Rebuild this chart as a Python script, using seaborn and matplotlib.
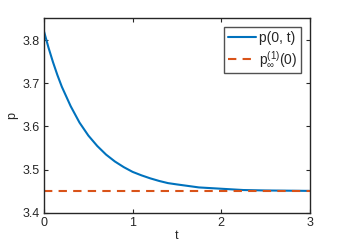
import numpy as np
import pandas as pd
import seaborn as sns
import matplotlib
matplotlib.use("Agg")
import matplotlib.pyplot as plt

# values
t = [0.0, 0.05, 0.1, 0.15, 0.2, 0.3, 0.4, 0.5, 0.6, 0.7, 0.8, 0.9, 1.0,
     1.1, 1.2, 1.3, 1.4, 1.5, 1.75, 2.0, 2.25, 2.5, 2.75, 3.0]
p = [3.819, 3.782, 3.749, 3.719, 3.692, 3.647, 3.609, 3.579, 3.555, 3.535,
     3.519, 3.506, 3.495, 3.487, 3.480, 3.474, 3.469, 3.466, 3.459, 3.456,
     3.453, 3.452, 3.4515, 3.451]
p_inf = 3.45
t_range = [0.0, 3.0]

sns.set_style("ticks")
plt.rcParams["font.family"] = ["Liberation Sans", "DejaVu Sans"]
plt.rcParams["mathtext.fontset"] = "custom"
plt.rcParams["mathtext.rm"] = "Liberation Sans"
plt.rcParams["mathtext.it"] = "Liberation Sans"

df = pd.DataFrame({"t": t, "p": p})
ref = pd.DataFrame({"t": t_range, "p": [p_inf] * len(t_range)})

fig = plt.figure(figsize=(3.42, 2.52), dpi=100)
ax = fig.add_axes([0.129, 0.155, 0.776, 0.772])

sns.lineplot(data=df, x="t", y="p", ax=ax, color="#0072BD", linewidth=1.5,
             label="p(0, t)")
sns.lineplot(data=ref, x="t", y="p", ax=ax, color="#D95319", linewidth=1.5,
             linestyle=(0, (4, 3)), label=r"p$_{\infty}^{(1)}$(0)")

ax.set_xlim(0, 3)
ax.set_ylim(3.4, 3.85)
ax.set_xticks([0, 1, 2, 3])
ax.set_yticks([3.4, 3.5, 3.6, 3.7, 3.8])
ax.set_xlabel("t", fontsize=9, color="#262626", labelpad=1)
ax.set_ylabel("p", fontsize=9, color="#262626", labelpad=3)
ax.tick_params(direction="in", top=True, right=True, length=3, width=0.8,
               labelsize=9, colors="#262626", pad=3)
for s in ax.spines.values():
    s.set_visible(True)
    s.set_linewidth(1.0)
    s.set_color("#262626")

leg = ax.legend(loc="upper right", fontsize=10, frameon=True, fancybox=False,
                borderpad=0.3, handlelength=2.0, handletextpad=0.2,
                labelspacing=0.3, borderaxespad=0.6)
leg.get_frame().set_edgecolor("#262626")
leg.get_frame().set_linewidth(1.0)

fig.savefig("out.png", dpi=100)
